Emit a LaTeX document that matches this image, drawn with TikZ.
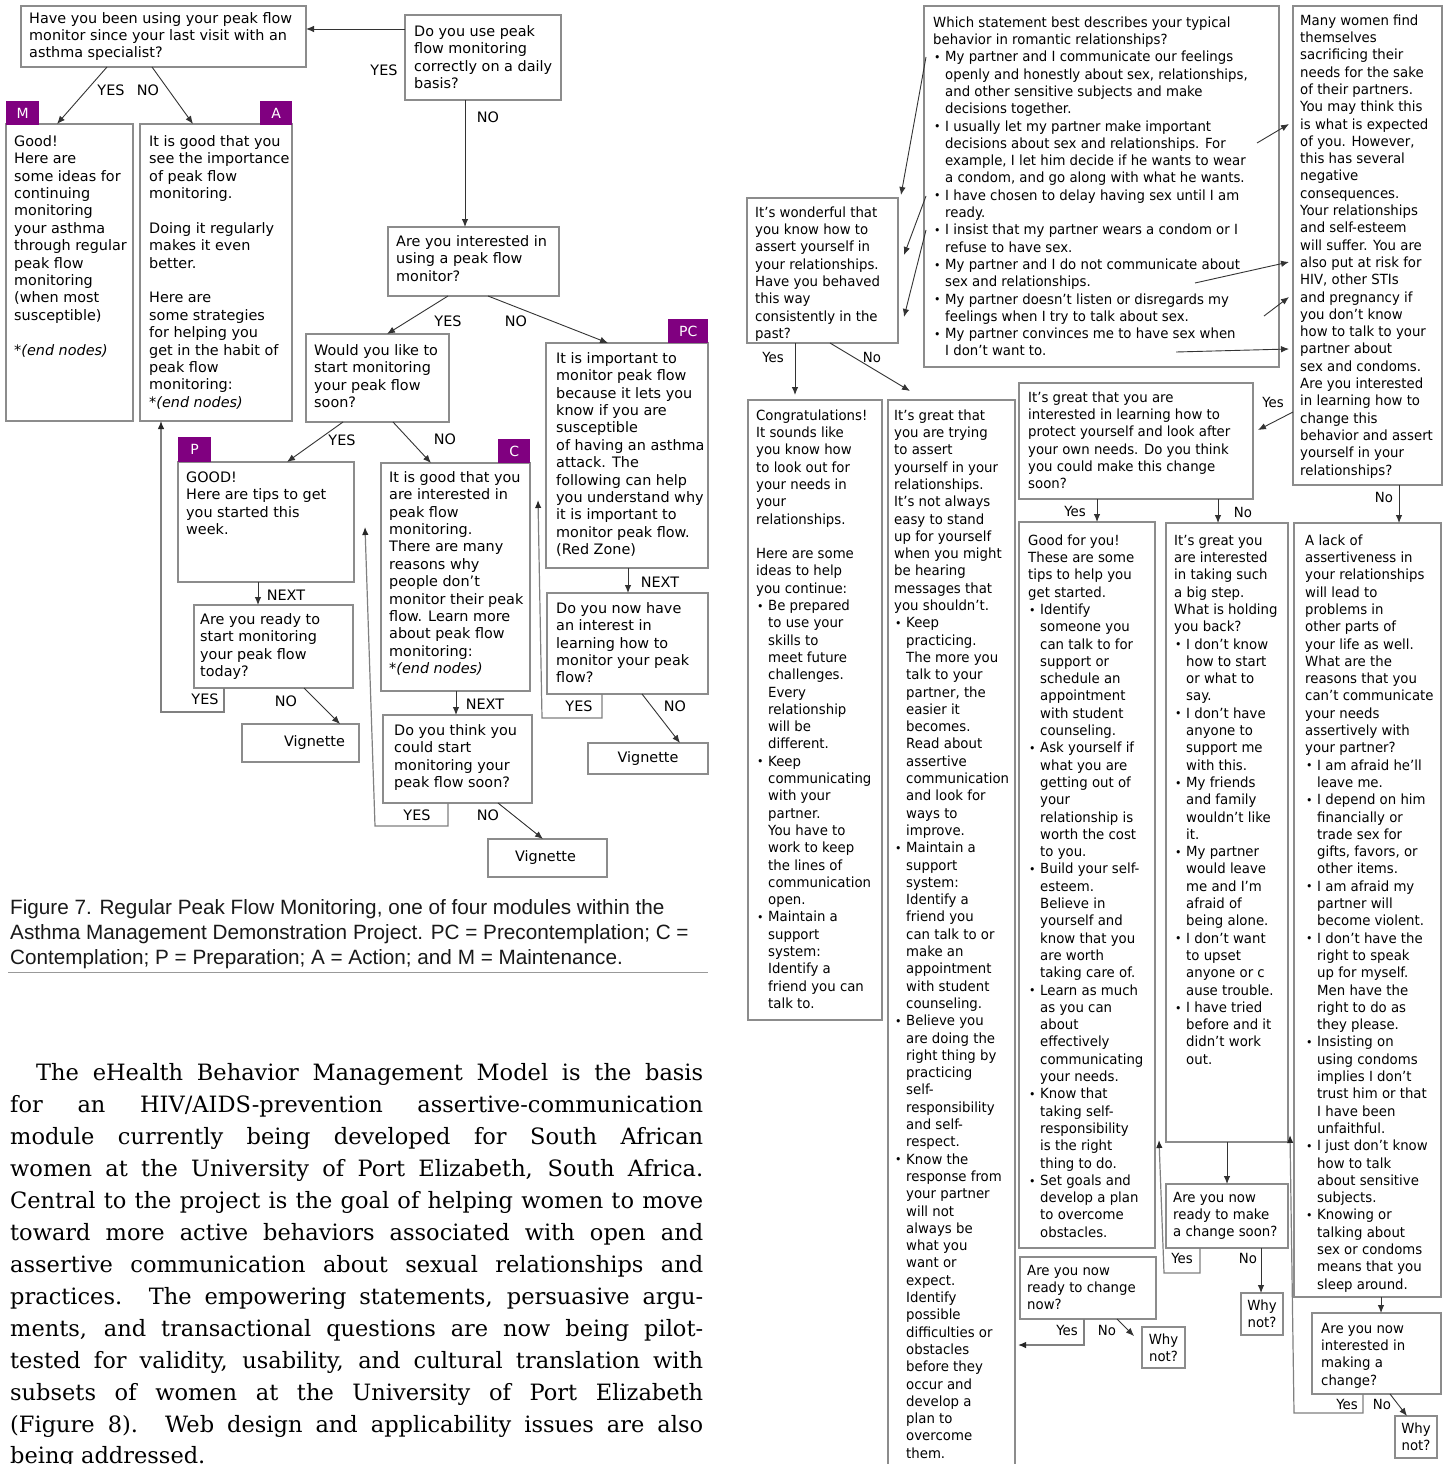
\documentclass[tikz,border=0pt]{standalone}
\usepackage{fontspec}
\setmainfont{DejaVu Sans}
\newfontfamily\rfam[FakeStretch=0.95]{DejaVu Sans}
\newfontfamily\capfam{Liberation Sans}
\newfontfamily\bodyfam{DejaVu Serif}
\usetikzlibrary{arrows.meta,fit,calc}
\definecolor{tagp}{HTML}{800080}
\newcommand\lfnt{\fontsize{14.4}{17.4}\selectfont}
\newcommand\rfnt{\rfam\fontsize{14}{17.3}\selectfont}
\newcommand\bul{\makebox[12pt][l]{\hspace{1pt}{\fontsize{11.5}{11.5}\selectfont\raisebox{0.3pt}{•}}}}
\newcommand\cnt{\hspace*{12pt}}
\newcommand\bxx[5]{\node[boxst, fit={(#2,#3)(#4,#5)}] (#1) {};}
\newcommand\tlx[4]{\node[txl, anchor=north west] (#1) at (#2,#3-12) {\rule{0pt}{12pt}#4};}
\newcommand\trx[4]{\node[txr, anchor=north west] (#1) at (#2,#3-12) {\rule{0pt}{12pt}#4};}
\tikzset{
  boxst/.style={draw=black!45, line width=1.3pt, inner sep=0pt, outer sep=0pt},
  txl/.style={font=\lfnt, align=left, inner sep=0pt, text=black},
  txr/.style={font=\rfnt, align=left, inner sep=0pt, text=black},
  labl/.style={font=\lfnt, inner sep=0pt, text=black},
  labr/.style={font=\rfnt, inner sep=0pt, text=black},
  tag/.style={fill=tagp, text=white, font=\fontsize{14}{14}\selectfont, inner sep=0pt, anchor=north west},
  arr/.style={draw=black!80, line width=0.9pt, -{Latex[length=8pt,width=6.5pt]}},
  looparr/.style={draw=black!50, line width=1.2pt, -{Latex[length=8pt,width=6.5pt,color=black!85]}},
  capst/.style={font=\capfam\fontsize{20.7}{25}\selectfont, inner sep=0pt, anchor=base west, text=black!90},
  bodyst/.style={font=\bodyfam\fontsize{22.5}{32}\selectfont, inner sep=0pt, anchor=base west},
}
\begin{document}
\begin{tikzpicture}[x=1pt,y=-1pt]
\useasboundingbox (0,0) rectangle (1450,1464);
\fill[white] (0,0) rectangle (1450,1464);

% ================= LEFT FLOWCHART =================
\bxx{q1}{21}{6}{306}{67}
\tlx{q1t}{29}{23}{Have you been using your peak flow\\monitor since your last visit with an\\asthma specialist?}
\bxx{q0}{405}{15}{561}{100}
\tlx{q0t}{414}{36}{Do you use peak\\flow monitoring\\correctly on a daily\\basis?}
\bxx{m}{6}{124}{133}{421}
\tlx{mt}{14}{146}{Good!\\Here are\\some ideas for\\continuing\\monitoring\\your asthma\\through regular\\peak flow\\monitoring\\(when most\\susceptible)\\[17.4pt]\textit{*(end nodes)}}
\bxx{a}{140}{124}{292}{421}
\tlx{at}{149}{146}{It is good that you\\see the importance\\of peak flow\\monitoring.\\[17.4pt]Doing it regularly\\makes it even\\better.\\[17.4pt]Here are\\some strategies\\for helping you\\get in the habit of\\peak flow\\monitoring:\\\textit{*(end nodes)}}
\bxx{q2}{388}{227}{559}{296}
\tlx{q2t}{396}{246}{Are you interested in\\using a peak flow\\monitor?}
\bxx{q3}{306}{334}{449}{422}
\tlx{q3t}{314}{355}{Would you like to\\start monitoring\\your peak flow\\soon?}
\bxx{pc}{546}{343}{708}{568}
\tlx{pct}{556}{363}{It is important to\\monitor peak flow\\because it lets you\\know if you are\\susceptible\\of having an asthma\\attack. The\\following can help\\you understand why\\it is important to\\monitor peak flow.\\(Red Zone)}
\bxx{p}{178}{462}{354}{582}
\tlx{pt}{186}{482}{GOOD!\\Here are tips to get\\you started this\\week.}
\bxx{c}{381}{463}{530}{691}
\tlx{ct}{389}{482}{It is good that you\\are interested in\\peak flow\\monitoring.\\There are many\\reasons why\\people don’t\\monitor their peak\\flow. Learn more\\about peak flow\\monitoring:\\\textit{*(end nodes)}}
\bxx{q4}{194}{605}{353}{688}
\tlx{q4t}{200}{624}{Are you ready to\\start monitoring\\your peak flow\\today?}
\bxx{q5}{383}{715}{532}{803}
\tlx{q5t}{394}{735}{Do you think you\\could start\\monitoring your\\peak flow soon?}
\bxx{q6}{547}{593}{708}{694}
\tlx{q6t}{556}{613}{Do you now have\\an interest in\\learning how to\\monitor your peak\\flow?}
\bxx{v1}{242}{724}{359}{762}
\node[labl] (v1t) at ([xshift=14pt]v1.center) {Vignette};
\bxx{v2}{588}{743}{708}{774}
\node[labl] (v2t) at (v2.center) {Vignette};
\bxx{v3}{488}{839}{607}{877}
\node[labl] (v3t) at ([xshift=-2pt]v3.center) {Vignette};

% tags
\node[tag, minimum width=33pt, minimum height=24pt] (tm) at (6,101) {M};
\node[tag, minimum width=32pt, minimum height=24pt] (ta) at (260,101) {A};
\node[tag, minimum width=40pt, minimum height=24pt] (tpc) at (668,319) {PC};
\node[tag, minimum width=33pt, minimum height=25pt] (tp) at (178,437) {P};
\node[tag, minimum width=32pt, minimum height=24pt] (tc) at (498,439) {C};

% left connectors
\draw[arr] ([yshift=-14pt]q0.north west) -- ([yshift=-23pt]q1.north east);
\draw[arr] ([xshift=86pt]q1.south west) -- ([xshift=51pt]m.north west);
\draw[arr] ([xshift=131pt]q1.south west) -- ([xshift=53pt]a.north west);
\draw[arr] ([xshift=60pt]q0.south west) -- ([xshift=77pt]q2.north west);
\draw[arr] ([xshift=60pt]q2.south west) -- ([xshift=81pt]q3.north west);
\draw[arr] ([xshift=100pt]q2.south west) -- ([xshift=62pt]pc.north west);
\draw[arr] ([xshift=37pt]q3.south west) -- ([xshift=109pt]p.north west);
\draw[arr] ([xshift=87pt]q3.south west) -- ([xshift=50pt]c.north west);
\draw[arr] ([xshift=80pt]p.south west) -- ([xshift=64pt]q4.north west);
\draw[looparr] ([xshift=30pt]q4.south west) -- ++(0,24) -| ([xshift=21pt]a.south west);
\draw[arr] ([xshift=110pt]q4.south west) -- ([xshift=98pt]v1.north west);
\draw[arr] ([xshift=75pt]c.south west) -- ([xshift=73pt]q5.north west);
\coordinate (c5a) at (375,826);
\coordinate (c5b) at (365,527);
\draw[looparr] ([xshift=65pt]q5.south west) |- (c5a) -- (c5b);
\draw[arr] ([xshift=115pt]q5.south west) -- ([xshift=55pt]v3.north west);
\draw[arr] ([xshift=82pt]pc.south west) -- ([xshift=81pt]q6.north west);
\coordinate (c6a) at (542,718);
\coordinate (c6b) at (538,500);
\draw[looparr] ([xshift=55pt]q6.south west) |- (c6a) -- (c6b);
\draw[arr] ([xshift=95pt]q6.south west) -- ([xshift=92pt]v2.north west);

% left labels
\node[labl] (l1) at (384,70) {YES};
\node[labl] (l2) at (488,117) {NO};
\node[labl] (l3) at (111,90) {YES};
\node[labl] (l4) at (148,90) {NO};
\node[labl] (l5) at (448,321) {YES};
\node[labl] (l6) at (516,321) {NO};
\node[labl] (l7) at (342,440) {YES};
\node[labl] (l8) at (445,439) {NO};
\node[labl] (l9) at (286,595) {NEXT};
\node[labl] (l10) at (205,699) {YES};
\node[labl] (l11) at (286,701) {NO};
\node[labl] (l12) at (485,704) {NEXT};
\node[labl] (l13) at (417,815) {YES};
\node[labl] (l14) at (488,815) {NO};
\node[labl] (l15) at (660,582) {NEXT};
\node[labl] (l16) at (579,706) {YES};
\node[labl] (l17) at (675,706) {NO};

% caption
\node[capst] (cap1) at (10,914) {Figure 7. Regular Peak Flow Monitoring, one of four modules within the};
\node[capst] (cap2) at (10,939) {Asthma Management Demonstration Project. PC = Precontemplation; C =};
\node[capst] (cap3) at (10,964) {Contemplation; P = Preparation; A = Action; and M = Maintenance.};
\draw[black!40, line width=0.8pt] (8,972) -- (708,972);

% body text
\node[bodyst] (b1) at (36,1080) {\makebox[667pt][s]{The eHealth Behavior Management Model is the basis}};
\node[bodyst] (b2) at (10,1112) {\makebox[693pt][s]{for an HIV/AIDS-prevention assertive-communication}};
\node[bodyst] (b3) at (10,1144) {\makebox[693pt][s]{module currently being developed for South African}};
\node[bodyst] (b4) at (10,1176) {\makebox[693pt][s]{women at the University of Port Elizabeth, South Africa.}};
\node[bodyst] (b5) at (10,1208) {\makebox[693pt][s]{Central to the project is the goal of helping women to move}};
\node[bodyst] (b6) at (10,1240) {\makebox[693pt][s]{toward more active behaviors associated with open and}};
\node[bodyst] (b7) at (10,1272) {\makebox[693pt][s]{assertive communication about sexual relationships and}};
\node[bodyst] (b8) at (10,1304) {\makebox[693pt][s]{practices. The empowering statements, persuasive argu-}};
\node[bodyst] (b9) at (10,1336) {\makebox[693pt][s]{ments, and transactional questions are now being pilot-}};
\node[bodyst] (b10) at (10,1368) {\makebox[693pt][s]{tested for validity, usability, and cultural translation with}};
\node[bodyst] (b11) at (10,1400) {\makebox[693pt][s]{subsets of women at the University of Port Elizabeth}};
\node[bodyst] (b12) at (10,1432) {\makebox[693pt][s]{(Figure 8). Web design and applicability issues are also}};
\node[bodyst] (b13) at (10,1463) {being addressed.};

% ================= RIGHT FLOWCHART =================
\bxx{s}{924}{6}{1279}{367}
\trx{st}{933}{27}{Which statement best describes your typical\\behavior in romantic relationships?\\\bul My partner and I communicate our feelings\\\cnt openly and honestly about sex, relationships,\\\cnt and other sensitive subjects and make\\\cnt decisions together.\\\bul I usually let my partner make important\\\cnt decisions about sex and relationships. For\\\cnt example, I let him decide if he wants to wear\\\cnt a condom, and go along with what he wants.\\\bul I have chosen to delay having sex until I am\\\cnt ready.\\\bul I insist that my partner wears a condom or I\\\cnt refuse to have sex.\\\bul My partner and I do not communicate about\\\cnt sex and relationships.\\\bul My partner doesn’t listen or disregards my\\\cnt feelings when I try to talk about sex.\\\bul My partner convinces me to have sex when\\\cnt I don’t want to.}
\bxx{w}{747}{198}{898}{343}
\trx{wt}{755}{217}{It’s wonderful that\\you know how to\\assert yourself in\\your relationships.\\Have you behaved\\this way\\consistently in the\\past?}
\bxx{r}{1293}{6}{1442}{485}
\trx{rt}{1300}{25}{Many women find\\themselves\\sacrificing their\\needs for the sake\\of their partners.\\You may think this\\is what is expected\\of you. However,\\this has several\\negative\\consequences.\\Your relationships\\and self-esteem\\will suffer. You are\\also put at risk for\\HIV, other STIs\\and pregnancy if\\you don’t know\\how to talk to your\\partner about\\sex and condoms.\\Are you interested\\in learning how to\\change this\\behavior and assert\\yourself in your\\relationships?}
\bxx{g}{1019}{383}{1253}{499}
\trx{gt}{1028}{402}{It’s great that you are\\interested in learning how to\\protect yourself and look after\\your own needs. Do you think\\you could make this change\\soon?}
\bxx{cg}{748}{400}{882}{1020}
\trx{cgt}{756}{420}{Congratulations!\\It sounds like\\you know how\\to look out for\\your needs in\\your\\relationships.\\[17.3pt]Here are some\\ideas to help\\you continue:\\\bul Be prepared\\\cnt to use your\\\cnt skills to\\\cnt meet future\\\cnt challenges.\\\cnt Every\\\cnt relationship\\\cnt will be\\\cnt different.\\\bul Keep\\\cnt communicating\\\cnt with your\\\cnt partner.\\\cnt You have to\\\cnt work to keep\\\cnt the lines of\\\cnt communication\\\cnt open.\\\bul Maintain a\\\cnt support\\\cnt system:\\\cnt Identify a\\\cnt friend you can\\\cnt talk to.}
\bxx{tr}{888}{400}{1015}{1480}
\trx{trt}{894}{420}{It’s great that\\you are trying\\to assert\\yourself in your\\relationships.\\It’s not always\\easy to stand\\up for yourself\\when you might\\be hearing\\messages that\\you shouldn’t.\\\bul Keep\\\cnt practicing.\\\cnt The more you\\\cnt talk to your\\\cnt partner, the\\\cnt easier it\\\cnt becomes.\\\cnt Read about\\\cnt assertive\\\cnt communication\\\cnt and look for\\\cnt ways to\\\cnt improve.\\\bul Maintain a\\\cnt support\\\cnt system:\\\cnt Identify a\\\cnt friend you\\\cnt can talk to or\\\cnt make an\\\cnt appointment\\\cnt with student\\\cnt counseling.\\\bul Believe you\\\cnt are doing the\\\cnt right thing by\\\cnt practicing\\\cnt self-\\\cnt responsibility\\\cnt and self-\\\cnt respect.\\\bul Know the\\\cnt response from\\\cnt your partner\\\cnt will not\\\cnt always be\\\cnt what you\\\cnt want or\\\cnt expect.\\\cnt Identify\\\cnt possible\\\cnt difficulties or\\\cnt obstacles\\\cnt before they\\\cnt occur and\\\cnt develop a\\\cnt plan to\\\cnt overcome\\\cnt them.}
\bxx{gd}{1019}{522}{1155}{1248}
\trx{gdt}{1028}{545}{Good for you!\\These are some\\tips to help you\\get started.\\\bul Identify\\\cnt someone you\\\cnt can talk to for\\\cnt support or\\\cnt schedule an\\\cnt appointment\\\cnt with student\\\cnt counseling.\\\bul Ask yourself if\\\cnt what you are\\\cnt getting out of\\\cnt your\\\cnt relationship is\\\cnt worth the cost\\\cnt to you.\\\bul Build your self-\\\cnt esteem.\\\cnt Believe in\\\cnt yourself and\\\cnt know that you\\\cnt are worth\\\cnt taking care of.\\\bul Learn as much\\\cnt as you can\\\cnt about\\\cnt effectively\\\cnt communicating\\\cnt your needs.\\\bul Know that\\\cnt taking self-\\\cnt responsibility\\\cnt is the right\\\cnt thing to do.\\\bul Set goals and\\\cnt develop a plan\\\cnt to overcome\\\cnt obstacles.}
\bxx{hd}{1166}{523}{1288}{1142}
\trx{hdt}{1174}{545}{It’s great you\\are interested\\in taking such\\a big step.\\What is holding\\you back?\\\bul I don’t know\\\cnt how to start\\\cnt or what to\\\cnt say.\\\bul I don’t have\\\cnt anyone to\\\cnt support me\\\cnt with this.\\\bul My friends\\\cnt and family\\\cnt wouldn’t like\\\cnt it.\\\bul My partner\\\cnt would leave\\\cnt me and I’m\\\cnt afraid of\\\cnt being alone.\\\bul I don’t want\\\cnt to upset\\\cnt anyone or c\\\cnt ause trouble.\\\bul I have tried\\\cnt before and it\\\cnt didn’t work\\\cnt out.}
\bxx{lk}{1294}{523}{1441}{1297}
\trx{lkt}{1305}{545}{A lack of\\assertiveness in\\your relationships\\will lead to\\problems in\\other parts of\\your life as well.\\What are the\\reasons that you\\can’t communicate\\your needs\\assertively with\\your partner?\\\bul I am afraid he’ll\\\cnt leave me.\\\bul I depend on him\\\cnt financially or\\\cnt trade sex for\\\cnt gifts, favors, or\\\cnt other items.\\\bul I am afraid my\\\cnt partner will\\\cnt become violent.\\\bul I don’t have the\\\cnt right to speak\\\cnt up for myself.\\\cnt Men have the\\\cnt right to do as\\\cnt they please.\\\bul Insisting on\\\cnt using condoms\\\cnt implies I don’t\\\cnt trust him or that\\\cnt I have been\\\cnt unfaithful.\\\bul I just don’t know\\\cnt how to talk\\\cnt about sensitive\\\cnt subjects.\\\bul Knowing or\\\cnt talking about\\\cnt sex or condoms\\\cnt means that you\\\cnt sleep around.}
\bxx{rc}{1020}{1257}{1156}{1319}
\trx{rct}{1027}{1275}{Are you now\\ready to change\\now?}
\bxx{mk}{1166}{1184}{1288}{1248}
\trx{mkt}{1173}{1202}{Are you now\\ready to make\\a change soon?}
\bxx{inq}{1312}{1313}{1441}{1394}
\trx{inqt}{1321}{1333}{Are you now\\interested in\\making a\\change?}
\bxx{wn1}{1142}{1327}{1185}{1368}
\node[txr, align=center] (wn1t) at (wn1.center) {Why\\not?};
\bxx{wn2}{1241}{1293}{1283}{1335}
\node[txr, align=center] (wn2t) at (wn2.center) {Why\\not?};
\bxx{wn3}{1395}{1416}{1437}{1458}
\node[txr, align=center] (wn3t) at (wn3.center) {Why\\not?};

% right connectors
\draw[arr] ([xshift=2pt,yshift=-51pt]s.north west) -- ([xshift=3pt,yshift=3pt]w.north east);
\draw[arr] ([xshift=2pt,yshift=-190pt]s.north west) -- ([xshift=6pt,yshift=-57pt]w.north east);
\draw[arr] ([xshift=2pt,yshift=-224pt]s.north west) -- ([xshift=6pt,yshift=-119pt]w.north east);
\draw[arr] ([xshift=333pt,yshift=-137pt]s.north west) -- ([xshift=-4pt,yshift=-118pt]r.north west);
\draw[arr] ([xshift=271pt,yshift=-277pt]s.north west) -- ([xshift=-4pt,yshift=-256pt]r.north west);
\draw[arr] ([xshift=340pt,yshift=-310pt]s.north west) -- ([xshift=-4pt,yshift=-291pt]r.north west);
\draw[arr] ([xshift=252pt,yshift=-346pt]s.north west) -- ([xshift=-4pt,yshift=-343pt]r.north west);
\draw[arr] ([xshift=48pt]w.south west) -- ([xshift=47pt,yshift=5pt]cg.north west);
\draw[arr] ([xshift=83pt]w.south west) -- ([xshift=22pt,yshift=9pt]tr.north west);
\draw[arr] ([yshift=-406pt]r.north west) -- ([xshift=5pt,yshift=-47pt]g.north east);
\draw[arr] ([xshift=78pt]g.south west) -- ([xshift=78pt]gd.north west);
\draw[arr] ([xshift=199pt]g.south west) -- ([xshift=52pt]hd.north west);
\draw[arr] ([xshift=106pt]r.south west) -- ([xshift=105pt]lk.north west);
\draw[arr] ([xshift=61pt]hd.south west) -- ([xshift=61pt]mk.north west);
\coordinate (mka) at (1164,1273);
\coordinate (mkb) at (1159,1140);
\draw[looparr] ([xshift=34pt]mk.south west) |- (mka) -- (mkb);
\draw[arr] ([xshift=95pt]mk.south west) -- ([xshift=20pt]wn2.north west);
\draw[arr] ([xshift=87pt]lk.south west) -- ([xshift=69pt]inq.north west);
\coordinate (ina) at (1294,1413);
\coordinate (inb) at (1290,1135);
\draw[looparr] ([xshift=51pt]inq.south west) |- (ina) -- (inb);
\draw[arr] ([xshift=78pt]inq.south west) -- ([xshift=12pt]wn3.north west);
\coordinate (rca) at (1018,1345);
\draw[looparr] ([xshift=64pt]rc.south west) |- (rca);
\draw[arr] ([xshift=97pt]rc.south west) -- ([xshift=-8pt,yshift=-9pt]wn1.north west);

% right labels
\node[labr] (r1) at (773,357) {Yes};
\node[labr] (r2) at (872,357) {No};
\node[labr] (r3) at (1273,402) {Yes};
\node[labr] (r4) at (1075,511) {Yes};
\node[labr] (r5) at (1243,512) {No};
\node[labr] (r6) at (1384,497) {No};
\node[labr] (r7) at (1067,1330) {Yes};
\node[labr] (r8) at (1107,1330) {No};
\node[labr] (r9) at (1182,1258) {Yes};
\node[labr] (r10) at (1248,1258) {No};
\node[labr] (r11) at (1347,1404) {Yes};
\node[labr] (r12) at (1382,1404) {No};
\end{tikzpicture}
\end{document}
